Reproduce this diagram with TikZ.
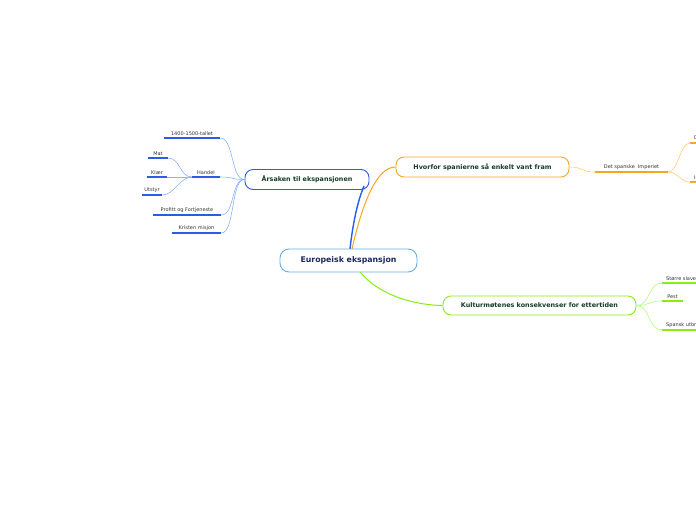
\documentclass[tikz,border=0pt]{standalone}
\usepackage{fontspec}
\setmainfont{DejaVu Sans}
\definecolor{bblue}{HTML}{2A5CE8}
\definecolor{lblue}{HTML}{8FB0FF}
\definecolor{cblue}{HTML}{6AAEE0}
\definecolor{borange}{HTML}{F5A623}
\definecolor{lorange}{HTML}{FFCB7A}
\definecolor{bgreen}{HTML}{88EE11}
\definecolor{lgreen}{HTML}{B4FF70}
\definecolor{navy}{HTML}{1C2A5A}
\definecolor{dgreen}{HTML}{123D2A}
\definecolor{leaftext}{HTML}{333333}
\begin{document}
\begin{tikzpicture}[x=1pt,y=-1pt,
  leaf/.style={font=\fontsize{5}{6}\selectfont, text=leaftext, inner xsep=0pt, inner ysep=2pt, anchor=south, minimum width=#1},
  rleaf/.style={font=\fontsize{5}{6}\selectfont, text=leaftext, inner xsep=4pt, inner ysep=2pt, anchor=south west},
  branch/.style={draw=#1, line width=0.9pt, rounded corners=8pt, fill=white, text=dgreen, font=\fontsize{6.4}{8}\selectfont\bfseries, inner sep=0pt},
  ulb/.style={draw=bblue, line width=1.8pt},
  ulo/.style={draw=borange, line width=1.8pt},
  ulg/.style={draw=bgreen, line width=1.8pt},
  thinb/.style={draw=lblue, line width=0.6pt},
  thino/.style={draw=lorange, line width=0.6pt},
  thing/.style={draw=lgreen, line width=0.6pt}]
\useasboundingbox (0,0) rectangle (696,520);
\clip (0,0) rectangle (696,520);

% main branches
\node[branch=bblue, minimum width=124pt, minimum height=20pt] (A) at (307,179.5) {Årsaken til ekspansjonen};
\node[branch=borange, minimum width=173pt, minimum height=20pt] (H) at (482.5,167) {Hvorfor spanierne så enkelt vant fram};
\node[branch=bgreen, minimum width=193pt, minimum height=19pt] (K) at (539.5,305.5) {Kulturmøtenes konsekvenser for ettertiden};

% central connectors
\coordinate (c1) at (350,249);
\coordinate (c2) at (352,249);
\coordinate (c3) at (360,272);
\coordinate (ae) at (364,186);
\draw[draw=bblue, line width=1.4pt] (c1) .. controls (353,222) and (358,200) .. (ae);
\draw[draw=borange, line width=1pt] (c2) .. controls (362,205) and (376,167) .. (H.west);
\draw[draw=bgreen, line width=1pt] (c3) .. controls (380,296) and (415,305) .. (K.west);

\node[draw=cblue, line width=0.9pt, rounded corners=9pt, fill=white, text=navy, font=\fontsize{7.8}{9}\selectfont\bfseries, minimum width=137pt, minimum height=23pt, inner sep=0pt] (E) at (348.5,260.5) {Europeisk ekspansjon};

% Årsaken leaves
\node[leaf=56] (t1) at (192,138) {1400-1500-tallet};
\node[leaf=28] (ha) at (206,177) {Handel};
\node[leaf=68] (pr) at (187,215) {Profitt og Fortjeneste};
\node[leaf=49] (kr) at (196.5,233) {Kristen misjon};
\node[leaf=20] (ma) at (158,158) {Mat};
\node[leaf=20] (kl) at (157,177) {Klær};
\node[leaf=20] (ut) at (152,195) {Utstyr};
\foreach \n in {t1,ha,pr,kr,ma,kl,ut} \draw[ulb] (\n.south west) -- (\n.south east);

\foreach \n in {t1,ha,pr,kr} \draw[thinb] (A.west) .. controls +(-14,0) and +(14,0) .. (\n.south east);
\foreach \n in {ma,kl,ut} \draw[thinb] (ha.south west) .. controls +(-12,0) and +(12,0) .. (\n.south east);

% Hvorfor leaves
\node[leaf=73] (ds) at (631.5,172) {Det spanske\ \ Imperiet};
\draw[ulo] (ds.south west) -- (ds.south east);
\draw[thino] (H.east) .. controls +(14,0) and +(-14,0) .. (ds.south west);
\node[rleaf] (d1) at (690,143) {Dårlig};
\node[rleaf] (d2) at (690,182) {Indianerne};
\draw[ulo] (d1.south west) -- ++(20,0);
\draw[ulo] (d2.south west) -- ++(20,0);
\draw[thino] (ds.south east) .. controls +(10,0) and +(-10,0) .. (d1.south west);
\draw[thino] (ds.south east) .. controls +(10,0) and +(-10,0) .. (d2.south west);

% Kultur leaves
\node[rleaf] (k1) at (662,283) {Større slavehandel};
\node[leaf=21] (k2) at (672.5,301) {Pest};
\node[rleaf] (k3) at (662,330) {Spansk utbredelse};
\draw[ulg] (k1.south west) -- ++(40,0);
\draw[ulg] (k2.south west) -- (k2.south east);
\draw[ulg] (k3.south west) -- ++(40,0);
\foreach \n in {k1,k2,k3} \draw[thing] (K.east) .. controls +(14,0) and +(-14,0) .. (\n.south west);
\end{tikzpicture}
\end{document}
